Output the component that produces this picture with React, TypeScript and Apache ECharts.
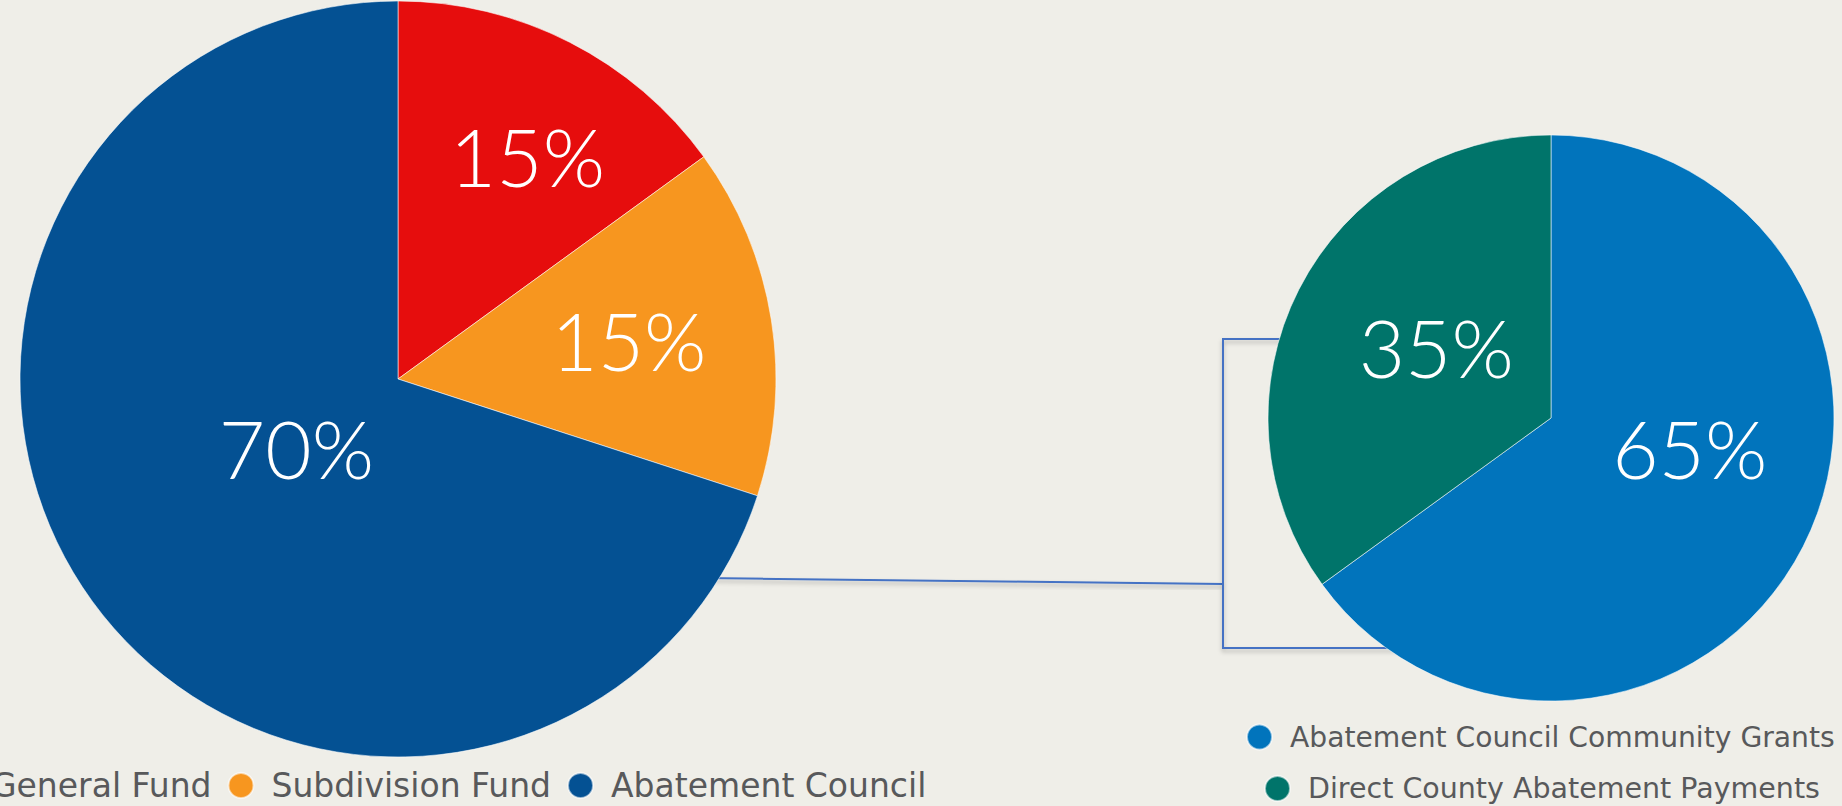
import React, { useEffect, useRef } from "react";
import * as echarts from "echarts";

const leftNames = ["General Fund", "Subdivision Fund", "Abatement Council"];
const leftValues = [15, 15, 70];
const leftColors = ["#E60D0D", "#F7961F", "#045193"];

const rightNames = ["Abatement Council Community Grants", "Direct County Abatement Payments"];
const rightValues = [65, 35];
const rightColors = ["#0174BC", "#00746A"];

const BG = "#EFEEE8";
const LEFT_C = [398, 379];
const LEFT_R = 378;
const RIGHT_C = [1551, 418];
const RIGHT_R = 283;

const leftLabelOffsets = [[15, 2], [-18, 0], [2, -6]];
const rightLabelOffsets = [[10, -36], [14, -5]];

const pctLabel = {
  color: "#ffffff",
  fontFamily: "Lato",
  fontWeight: 300,
  fontSize: 80,
  formatter: "{c}%",
};

const legendText = { fontFamily: "DejaVu Sans", color: "#58595b" };

export default function App() {
  const ref = useRef<HTMLDivElement>(null);
  useEffect(() => {
    if (!ref.current) return;
    const chart = echarts.init(ref.current, undefined, { renderer: "svg" });
    const leftData = leftNames.map((n, i) => ({ name: n, value: leftValues[i], itemStyle: { color: leftColors[i] } }));
    const rightData = rightNames.map((n, i) => ({
      name: n,
      value: rightValues[i],
      itemStyle: { color: rightColors[i] },
      label: { offset: rightLabelOffsets[i] },
    }));
    const lineStyle = {
      stroke: "#4472C4",
      lineWidth: 2,
      fill: null,
      shadowBlur: 4,
      shadowColor: "rgba(0,0,0,0.25)",
      shadowOffsetY: 3,
    };
    chart.setOption({
      animation: false,
      backgroundColor: BG,
      graphic: [
        { type: "polyline", z: 0, shape: { points: [[700, 578], [1223, 584]] }, style: lineStyle },
        { type: "polyline", z: 0, shape: { points: [[1290, 339], [1223, 339], [1223, 648], [1400, 648]] }, style: lineStyle },
      ],
      legend: [
        {
          data: leftNames, left: -53, top: 769, padding: 0, itemWidth: 51, itemHeight: 25, itemGap: 16,
          icon: "circle", textStyle: { ...legendText, fontSize: 33 }, selectedMode: false,
        },
        {
          data: [rightNames[0]], left: 1246, top: 723, padding: 0, itemWidth: 51, itemHeight: 25,
          icon: "circle", textStyle: { ...legendText, fontSize: 28.2 }, selectedMode: false,
        },
        {
          data: [rightNames[1]], left: 1264, top: 774, padding: 0, itemWidth: 51, itemHeight: 25,
          icon: "circle", textStyle: { ...legendText, fontSize: 28.5 }, selectedMode: false,
        },
      ],
      series: [
        {
          type: "pie", center: LEFT_C, radius: [0, LEFT_R], startAngle: 90, clockwise: true,
          label: { show: false }, labelLine: { show: false },
          itemStyle: { borderColor: "rgba(255,255,255,0.55)", borderWidth: 1 },
          data: leftData, silent: true,
        },
        {
          type: "pie", center: RIGHT_C, radius: [0, RIGHT_R], startAngle: 90, clockwise: true,
          label: { show: true, position: "inside", ...pctLabel }, labelLine: { show: false },
          itemStyle: { borderColor: "rgba(255,255,255,0.55)", borderWidth: 1 },
          data: rightData, silent: true,
        },
        {
          type: "pie", center: LEFT_C, radius: [120, LEFT_R], startAngle: 90, clockwise: true,
          silent: true, labelLine: { show: false },
          itemStyle: { color: "rgba(0,0,0,0)" },
          label: { show: true, position: "inside", ...pctLabel },
          data: leftNames.map((n, i) => ({
            name: n, value: leftValues[i], label: { show: i < 2, offset: leftLabelOffsets[i] },
          })),
        },
        {
          type: "pie", center: LEFT_C, radius: [0, 250], startAngle: 90, clockwise: true,
          silent: true, labelLine: { show: false },
          itemStyle: { color: "rgba(0,0,0,0)" },
          label: { show: true, position: "inside", ...pctLabel },
          data: leftNames.map((n, i) => ({
            name: n, value: leftValues[i], label: { show: i === 2, offset: leftLabelOffsets[i] },
          })),
        },
      ],
    });
    return () => chart.dispose();
  }, []);
  return <div ref={ref} style={{ position: "fixed", left: 0, top: 0, width: 1842, height: 806 }} />;
}
